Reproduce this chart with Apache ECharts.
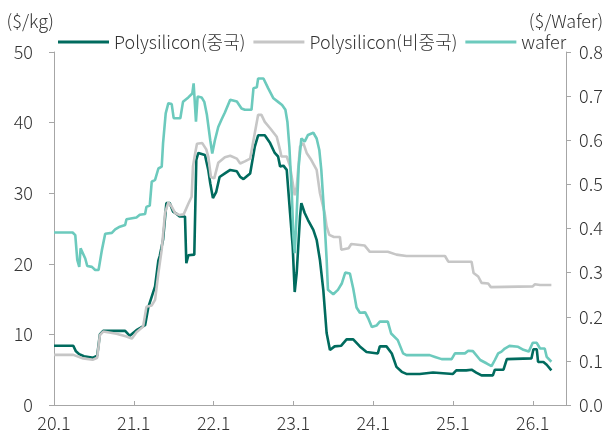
<!DOCTYPE html>
<html>
<head>
<meta charset="utf-8">
<script src="https://cdn.jsdelivr.net/npm/echarts@6/dist/echarts.min.js"></script>
<style>
  html, body { margin: 0; padding: 0; background: #fff; }
  #chart { width: 610px; height: 441px; }
</style>
</head>
<body>
<div id="chart"></div>
<script>
// x = months since Jan 2020 (0 = 20.1)
const seriesNames = ["Polysilicon(중국)", "Polysilicon(비중국)", "wafer"];

const chinaMonths = [0, 2.9, 3.3, 3.8, 4.5, 5.9, 6.5, 6.9, 7.4, 10.7, 11.4, 12.4, 13.7, 14.2, 15.2, 15.7, 15.9, 16.4, 16.9, 17.4, 17.9, 18.4, 18.9, 19.7, 19.9, 20.2, 21.1, 21.4, 21.7, 22.7, 23.2, 23.5, 23.9, 24.4, 24.9, 25.7, 26.5, 27.5, 28.0, 28.5, 29.5, 30.2, 30.7, 31.7, 32.5, 33.2, 33.7, 34.0, 34.5, 35.0, 35.5, 35.9, 36.2, 36.5, 36.8, 37.0, 37.2, 37.7, 38.2, 39.0, 39.5, 40.0, 40.5, 41.0, 41.5, 42.2, 43.2, 44.0, 45.0, 46.0, 47.0, 48.7, 49.0, 50.0, 50.8, 51.5, 52.3, 53.0, 55.0, 57.0, 58.5, 60.0, 60.5, 62.0, 62.8, 63.5, 64.3, 66.0, 66.3, 67.6, 68.1, 71.8, 72.1, 72.6, 72.8, 73.6, 74.1, 74.8];
const chinaPrice = [8.4, 8.4, 7.6, 7.2, 6.9, 6.7, 7.0, 10.0, 10.5, 10.5, 9.8, 10.6, 11.3, 13.9, 16.8, 20.5, 21.1, 23.4, 28.6, 28.6, 27.4, 27.1, 26.7, 26.7, 20.1, 21.2, 21.3, 34.7, 35.7, 35.4, 33.3, 31.4, 29.3, 30.2, 32.3, 32.8, 33.3, 33.1, 32.3, 32.0, 32.8, 36.6, 38.2, 38.2, 37.1, 35.7, 35.2, 33.8, 33.9, 33.3, 27.2, 22.4, 16.0, 18.7, 18.7, 26.7, 28.6, 27.2, 26.2, 24.8, 23.4, 20.5, 16.3, 10.2, 7.8, 8.3, 8.4, 9.3, 9.3, 8.3, 7.5, 7.3, 8.3, 8.3, 7.3, 5.4, 4.7, 4.4, 4.4, 4.6, 4.5, 4.4, 4.9, 4.9, 5.0, 4.6, 4.2, 4.2, 5.0, 5.0, 6.5, 6.6, 7.9, 7.9, 6.1, 6.1, 5.7, 4.9];

const nonChinaMonths = [0, 2.9, 4.4, 5.8, 6.5, 6.9, 7.4, 9.4, 10.9, 11.7, 12.4, 13.4, 13.9, 14.7, 15.2, 15.7, 16.2, 16.7, 17.2, 17.7, 18.2, 18.9, 19.5, 20.2, 20.7, 20.9, 21.2, 21.5, 22.3, 22.9, 23.2, 23.6, 24.1, 24.7, 25.7, 26.5, 27.5, 28.0, 28.7, 29.5, 30.0, 30.7, 31.2, 31.7, 32.5, 33.5, 34.0, 34.2, 35.0, 35.5, 36.2, 36.5, 37.0, 37.5, 38.0, 38.7, 39.5, 40.0, 40.7, 41.0, 41.4, 42.1, 43.0, 43.2, 44.3, 44.7, 46.7, 47.5, 50.2, 51.5, 53.0, 58.8, 59.3, 62.8, 63.1, 63.8, 64.3, 65.3, 65.7, 72.0, 72.3, 73.1, 74.8];
const nonChinaPrice = [7.1, 7.1, 6.6, 6.4, 6.7, 9.9, 10.4, 10.1, 9.7, 9.4, 10.3, 11.1, 13.9, 14.1, 14.9, 18.7, 22.0, 27.2, 28.7, 28.1, 27.2, 26.9, 27.0, 28.5, 29.5, 33.8, 35.5, 37.0, 37.1, 36.2, 35.2, 32.3, 32.1, 34.3, 35.1, 35.3, 34.9, 34.2, 34.5, 34.9, 37.5, 41.1, 41.1, 40.1, 39.2, 38.0, 36.1, 35.2, 35.2, 33.8, 29.7, 30.9, 36.6, 37.1, 35.7, 34.7, 33.3, 30.0, 27.2, 25.3, 24.1, 23.8, 23.8, 22.0, 22.2, 22.8, 22.6, 21.7, 21.7, 21.3, 21.1, 21.1, 20.3, 20.3, 18.7, 18.2, 17.3, 17.2, 16.7, 16.8, 17.1, 17.0, 17.0];

const waferMonths = [0, 2.8, 3.2, 3.5, 3.8, 4.0, 4.3, 4.7, 5.0, 5.7, 6.2, 6.7, 7.2, 7.7, 8.7, 9.2, 9.9, 10.7, 10.9, 12.4, 12.9, 13.7, 13.9, 14.4, 14.7, 15.2, 15.7, 16.2, 16.4, 16.8, 17.2, 17.7, 18.0, 19.0, 19.4, 20.2, 20.8, 21.0, 21.2, 21.35, 21.6, 22.2, 22.6, 23.0, 23.5, 23.8, 24.2, 24.7, 25.2, 25.7, 26.5, 27.5, 28.2, 28.7, 29.7, 30.0, 30.5, 30.7, 31.5, 32.2, 33.0, 33.7, 34.3, 34.8, 35.1, 35.4, 35.8, 36.0, 36.2, 36.5, 36.8, 37.2, 37.7, 38.2, 39.0, 39.5, 39.9, 40.2, 40.6, 41.0, 41.2, 42.0, 42.7, 43.3, 43.8, 44.5, 45.0, 45.5, 46.0, 46.8, 47.3, 47.8, 48.5, 49.0, 50.2, 50.7, 51.7, 52.5, 53.0, 56.5, 57.3, 58.3, 59.8, 60.3, 61.8, 62.3, 63.0, 64.1, 65.1, 65.8, 66.3, 66.8, 67.3, 67.8, 68.5, 69.8, 70.6, 71.4, 72.0, 72.6, 73.1, 73.8, 74.1, 74.8];
const waferPrice = [0.391, 0.391, 0.385, 0.329, 0.313, 0.355, 0.352, 0.332, 0.315, 0.313, 0.306, 0.306, 0.351, 0.388, 0.390, 0.398, 0.404, 0.408, 0.421, 0.425, 0.431, 0.433, 0.449, 0.452, 0.506, 0.510, 0.536, 0.540, 0.593, 0.661, 0.684, 0.682, 0.650, 0.650, 0.687, 0.697, 0.706, 0.729, 0.725, 0.642, 0.699, 0.697, 0.687, 0.657, 0.600, 0.570, 0.600, 0.630, 0.647, 0.663, 0.692, 0.688, 0.672, 0.669, 0.669, 0.718, 0.720, 0.740, 0.740, 0.718, 0.695, 0.687, 0.680, 0.669, 0.642, 0.585, 0.465, 0.381, 0.344, 0.434, 0.540, 0.604, 0.597, 0.612, 0.617, 0.604, 0.578, 0.533, 0.440, 0.330, 0.261, 0.251, 0.261, 0.276, 0.300, 0.298, 0.264, 0.221, 0.209, 0.210, 0.195, 0.177, 0.180, 0.189, 0.189, 0.162, 0.147, 0.117, 0.113, 0.113, 0.109, 0.104, 0.104, 0.117, 0.117, 0.123, 0.122, 0.102, 0.094, 0.088, 0.102, 0.117, 0.121, 0.128, 0.134, 0.132, 0.125, 0.121, 0.141, 0.141, 0.128, 0.128, 0.109, 0.098];

const xMin = 0, xMax = 77, xStep = 12;

const zip = (xs, ys) => xs.map((x, i) => [x, ys[i]]);

const FONT = '"Noto Sans CJK KR", "Noto Sans", sans-serif';
const TEXT = "#333333";
const AXIS = "#a6a6a6";
const colors = ["#006b5e", "#c6c6c6", "#6ccabd"];

const chart = echarts.init(document.getElementById("chart"));
chart.setOption({
  animation: false,
  textStyle: { fontFamily: FONT, color: TEXT, fontWeight: 300 },
  grid: { left: 54, right: 44, top: 52, bottom: 36, outerBoundsMode: "none" },
  legend: {
    left: 53, top: 28,
    icon: "rect", itemWidth: 51, itemHeight: 3, itemGap: 8,
    textStyle: { fontFamily: FONT, fontSize: 18, color: TEXT, fontWeight: 300 },
    data: seriesNames
  },
  xAxis: {
    type: "value", min: xMin, max: xMax, interval: xStep,
    axisLine: { lineStyle: { color: AXIS, width: 1 } },
    axisTick: { inside: true, length: 4, lineStyle: { color: AXIS } },
    splitLine: { show: false },
    axisLabel: {
      fontFamily: FONT, fontSize: 18, color: TEXT, margin: 9, fontWeight: 300,
      formatter: v => (v % 12 === 0 ? (20 + v / 12) + ".1" : "")
    }
  },
  yAxis: [{
    type: "value", min: 0, max: 50, interval: 10,
    name: "($/kg)", nameLocation: "end", nameGap: 22,
    nameTextStyle: { fontFamily: FONT, fontSize: 18, color: TEXT, align: "right", fontWeight: 300 },
    axisLine: { show: true, lineStyle: { color: AXIS, width: 1 } },
    axisTick: { show: true, length: 5, lineStyle: { color: AXIS } },
    splitLine: { show: false },
    axisLabel: { fontFamily: FONT, fontSize: 18, color: TEXT, margin: 21, fontWeight: 300 }
  }, {
    type: "value", min: 0, max: 0.8, interval: 0.1, position: "right",
    name: "($/Wafer)", nameLocation: "end", nameGap: 22,
    nameTextStyle: { fontFamily: FONT, fontSize: 18, color: TEXT, fontWeight: 300 },
    axisLine: { show: true, lineStyle: { color: AXIS, width: 1 } },
    axisTick: { show: true, length: 5, lineStyle: { color: AXIS } },
    splitLine: { show: false },
    axisLabel: { fontFamily: FONT, fontSize: 18, color: TEXT, margin: 13, fontWeight: 300, formatter: v => v.toFixed(1) }
  }],
  series: [{
    name: seriesNames[0], type: "line", yAxisIndex: 0, symbol: "none",
    itemStyle: { color: colors[0] }, lineStyle: { color: colors[0], width: 2.6 },
    data: zip(chinaMonths, chinaPrice)
  }, {
    name: seriesNames[1], type: "line", yAxisIndex: 0, symbol: "none",
    itemStyle: { color: colors[1] }, lineStyle: { color: colors[1], width: 2.6 },
    data: zip(nonChinaMonths, nonChinaPrice)
  }, {
    name: seriesNames[2], type: "line", yAxisIndex: 1, symbol: "none",
    itemStyle: { color: colors[2] }, lineStyle: { color: colors[2], width: 2.6 },
    data: zip(waferMonths, waferPrice)
  }]
});
</script>
</body>
</html>
